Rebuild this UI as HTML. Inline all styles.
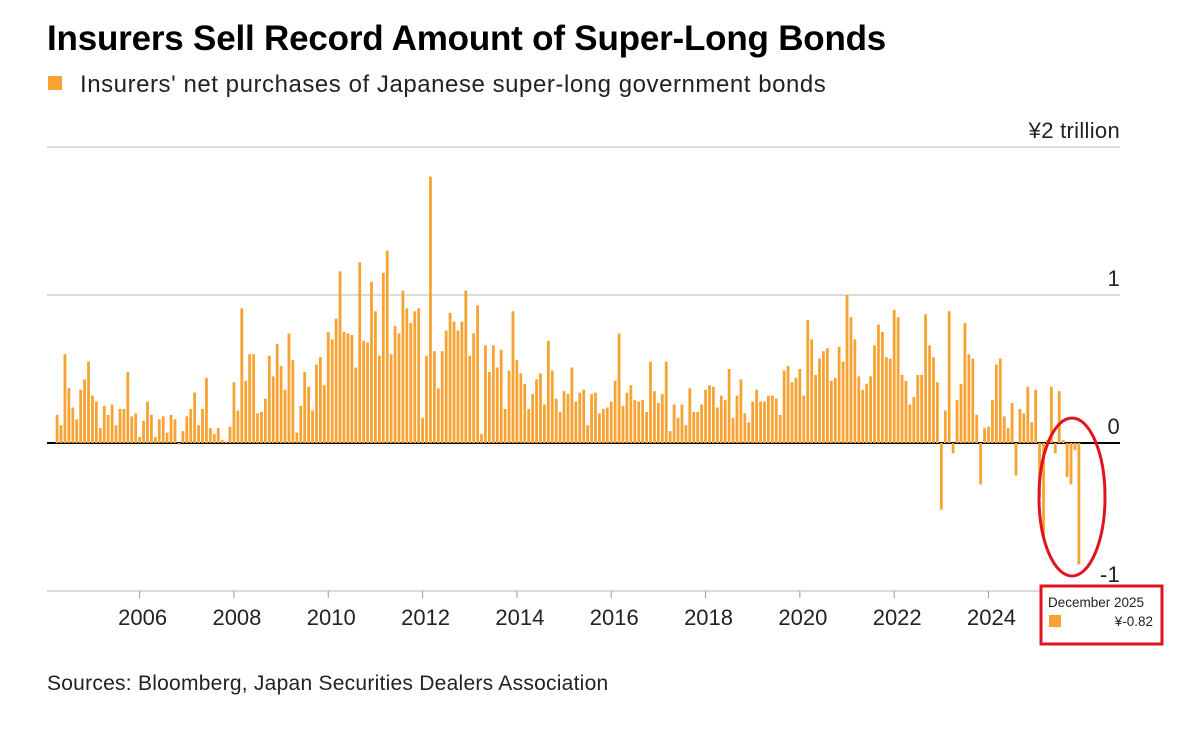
<!DOCTYPE html>
<html><head><meta charset="utf-8">
<style>
body{margin:0;background:#fff;font-family:"Liberation Sans",Arial,sans-serif;}
svg{display:block}
</style></head>
<body>
<svg id="chart" width="1200" height="742" viewBox="0 0 1200 742">
<text x="47" y="50" font-size="35" font-weight="bold" fill="#000" letter-spacing="-0.2">Insurers Sell Record Amount of Super-Long Bonds</text>
<rect x="48" y="76" width="14" height="14" fill="#f7a334"/>
<text x="80" y="92" font-size="24" fill="#222" letter-spacing="0.55">Insurers' net purchases of Japanese super-long government bonds</text>
<g id="grid"></g>
<g id="bars"></g>
<g id="axes"></g>
<ellipse cx="1072" cy="497" rx="33" ry="79" fill="none" stroke="#e0141e" stroke-width="3"/>
<rect x="1041" y="586" width="121" height="58" fill="#fff" stroke="#e0141e" stroke-width="3"/>
<text x="1048" y="607" font-size="13.5" fill="#222">December 2025</text>
<rect x="1049" y="615" width="12" height="12" fill="#f7a334"/>
<text x="1153" y="626" font-size="13.5" fill="#222" text-anchor="end">¥-0.82</text>
<text x="47" y="690" font-size="21" fill="#222" letter-spacing="0.25">Sources: Bloomberg, Japan Securities Dealers Association</text>
</svg>
<script>
const startYear = 2004, startMonth = 3; // April 2004 (0-based month)
const values = [
0.19,0.12,0.60,0.37,0.24,0.16,0.36,0.43,0.55,0.32,0.28,0.10,0.25,0.19,0.26,0.12,0.23,0.23,0.48,0.18,0.20,0.04,0.15,0.28,0.19,0.04,0.16,0.18,0.07,0.19,0.16,-0.01,0.08,0.18,0.23,0.34,0.12,0.23,0.44,0.10,0.06,0.10,0.02,0.01,0.11,0.41,0.22,
0.91,0.42,0.60,0.60,0.20,0.21,0.30,0.59,0.45,0.67,0.52,0.36,0.74,0.56,0.07,0.25,0.48,0.38,0.22,0.53,0.58,0.39,0.75,0.70,0.84,1.16,0.75,0.74,0.73,0.51,1.22,0.69,0.68,1.09,0.89,0.59,1.15,1.30,0.60,0.79,0.74,1.03,0.91,0.81,0.89,0.91,
0.17,0.59,1.80,0.62,0.37,0.62,0.76,0.88,0.82,0.76,0.82,1.03,0.59,0.74,0.93,0.06,0.66,0.48,0.66,0.51,0.63,0.23,0.49,0.89,0.56,0.47,0.40,0.23,0.33,0.43,0.47,0.26,0.69,0.49,0.30,0.21,0.35,0.33,0.51,0.28,0.34,0.36,0.12,0.33,0.34,0.20,0.23,0.24,
0.28,0.42,0.74,0.25,0.34,0.39,0.29,0.28,0.29,0.21,0.55,0.35,0.27,0.33,0.55,0.08,0.26,0.17,0.26,0.12,0.37,0.21,0.21,0.26,0.36,0.39,0.38,0.24,0.32,0.29,0.50,0.17,0.32,0.43,0.20,0.14,0.28,0.36,0.28,0.28,0.32,0.32,0.30,0.19,0.49,0.52,0.41,0.44,
0.50,0.32,0.83,0.70,0.46,0.57,0.62,0.64,0.42,0.44,0.65,0.55,1.00,0.85,0.70,0.45,0.36,0.40,0.45,0.66,0.80,0.75,0.58,0.57,0.90,0.85,0.46,0.42,0.26,0.31,0.46,0.46,0.87,0.66,0.58,0.41,-0.45,0.22,0.89,-0.07,0.29,0.40,0.81,0.60,0.57,0.19,-0.28,
0.10,0.11,0.29,0.53,0.57,0.18,0.10,0.27,-0.22,0.23,0.20,0.38,0.14,0.36,-0.37,-0.64,0.02,0.38,-0.07,0.35,0.02,-0.23,-0.28,-0.05,-0.82];
const yTicks = [2, 1, 0, -1];
const yTickLabels = ["¥2 trillion", "1", "0", "-1"];
const xTickYears = [2006, 2008, 2010, 2012, 2014, 2016, 2018, 2020, 2022, 2024];

const NS = "http://www.w3.org/2000/svg";
const L = 47, R = 1120;
function y(v){ return 443 - v * 148; }
function monthIndex(yr, m){ return (yr - startYear) * 12 + m - startMonth; }
function x(i){ return 988.5 + (i - monthIndex(2024, 0)) * 3.93; }
function mk(tag, attrs, parent){ const e = document.createElementNS(NS, tag); for (const k in attrs) e.setAttribute(k, attrs[k]); parent.appendChild(e); return e; }

const grid = document.getElementById('grid');
yTicks.forEach((t, k) => {
  const ln = mk('line', {x1:L, x2:R, y1:y(t), y2:y(t), stroke: t === 0 ? '#000' : '#cfcfcf', 'stroke-width': t === 0 ? 2 : 1.5}, grid);
  
  
  const tx = mk('text', {x:R, y:y(t) - 9, 'font-size':22, fill:'#222', 'text-anchor':'end', 'letter-spacing':0.3}, grid);
  tx.textContent = yTickLabels[k];
  
  
});

const bars = document.getElementById('bars');
values.forEach((v, i) => {
  const top = Math.min(y(v), y(0)), h = Math.abs(y(v) - y(0));
  const b = mk('rect', {x:x(i) - 1.4, y:top, width:2.8, height:Math.max(h, 0.5), fill:'#f7a334'}, bars);
  
  
});

const axes = document.getElementById('axes');
xTickYears.forEach(yr => {
  const xx = x(monthIndex(yr, 0));
  const tk = mk('line', {x1:xx, x2:xx, y1:591, y2:598, stroke:'#999', 'stroke-width':1}, axes);
  
  
  const tx = mk('text', {x:xx + 3, y:625, 'font-size':22, fill:'#222', 'text-anchor':'middle'}, axes);
  tx.textContent = yr;
  
  
});
</script>
</body></html>
